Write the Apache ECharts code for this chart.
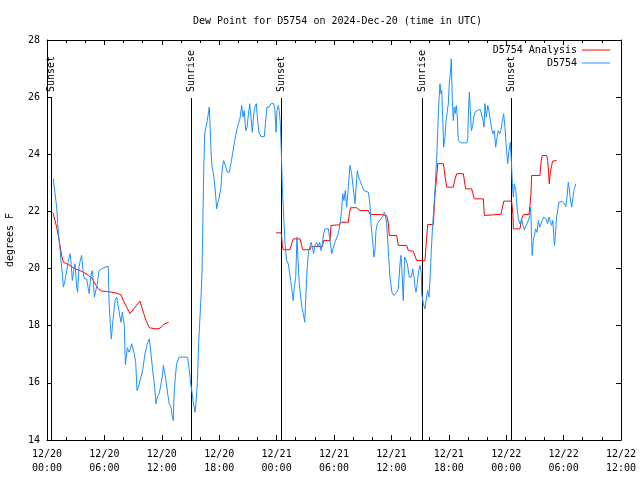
<!DOCTYPE html>
<html>
<head>
<meta charset="utf-8">
<script src="https://cdn.jsdelivr.net/npm/echarts@6/dist/echarts.min.js"></script>
<style>html,body{margin:0;padding:0;background:#fff;}#c{width:640px;height:480px;}</style>
</head>
<body>
<div id="c"></div>
<script>
// Hours since 2024-12-20 00:00 UTC
const obsHours = [0.66,0.84,1.01,1.12,1.25,1.36,1.46,1.60,1.71,1.88,2.06,2.23,2.40,2.50,2.65,2.79,2.93,3.10,3.20,3.34,3.48,3.62,3.80,3.90,4.15,4.32,4.42,4.56,4.73,4.84,4.95,5.12,5.26,5.44,5.72,6.06,6.41,6.48,6.62,6.72,6.83,6.97,7.11,7.28,7.46,7.63,7.74,7.87,7.98,8.08,8.19,8.29,8.40,8.57,8.71,8.85,9.00,9.13,9.27,9.41,9.55,9.72,10.00,10.24,10.49,10.70,10.87,11.05,11.26,11.39,11.53,11.74,11.90,12.05,12.16,12.30,12.44,12.61,12.78,12.96,13.07,13.20,13.27,13.41,13.55,13.80,14.25,14.70,14.88,15.02,15.16,15.29,15.47,15.57,15.71,15.85,15.99,16.10,16.20,16.27,16.38,16.48,16.62,16.76,16.86,16.96,17.04,17.14,17.25,17.38,17.56,17.74,17.87,18.01,18.19,18.33,18.47,18.64,18.85,19.06,19.31,19.48,19.69,19.83,20.00,20.17,20.35,20.49,20.62,20.77,20.91,21.04,21.19,21.32,21.46,21.61,21.74,21.88,22.02,22.16,22.37,22.71,22.86,22.99,23.20,23.41,23.70,23.83,23.94,24.04,24.18,24.28,24.39,24.49,24.60,24.70,24.81,24.91,25.05,25.22,25.33,25.47,25.61,25.74,25.85,26.00,26.13,26.24,26.37,26.52,26.65,26.79,26.94,27.04,27.18,27.31,27.46,27.60,27.74,27.87,28.01,28.19,28.33,28.50,28.64,28.78,28.92,29.06,29.41,29.58,29.76,29.93,30.10,30.28,30.45,30.63,30.80,30.91,31.04,31.18,31.32,31.50,31.67,31.84,32.00,32.20,32.30,32.44,32.58,32.72,32.90,33.14,33.59,33.76,33.87,34.00,34.18,34.28,34.39,34.53,34.67,34.88,35.09,35.26,35.37,35.51,35.68,35.85,36.06,36.27,36.55,36.72,36.90,37.00,37.10,37.24,37.39,37.52,37.66,37.87,38.08,38.23,38.37,38.47,38.57,38.71,38.85,38.99,39.13,39.17,39.34,39.51,39.69,39.79,39.93,40.07,40.17,40.28,40.42,40.56,40.66,40.77,40.87,40.97,41.08,41.18,41.26,41.36,41.46,41.60,41.71,41.84,41.95,42.05,42.16,42.26,42.37,42.47,42.57,42.68,42.78,42.89,42.99,43.35,43.87,43.98,44.04,44.15,44.25,44.36,44.50,44.60,44.74,44.92,45.09,45.30,45.44,45.58,45.68,45.78,45.92,46.07,46.20,46.34,46.48,46.62,46.76,46.90,47.04,47.17,47.32,47.45,47.58,47.73,47.87,48.01,48.16,48.29,48.43,48.54,48.64,48.75,48.85,49.00,49.13,49.27,49.44,49.62,49.76,49.89,50.03,50.17,50.31,50.46,50.56,50.66,50.72,50.83,50.94,51.08,51.22,51.36,51.50,51.64,51.77,51.92,52.06,52.19,52.33,52.47,52.60,52.75,52.88,52.99,53.06,53.17,53.27,53.38,53.52,53.66,53.87,54.08,54.22,54.36,54.49,54.60,54.70,54.85,54.99,55.12,55.27];
const obsDewF = [23.14,22.62,22.15,21.57,21.04,20.69,20.28,19.82,19.35,19.58,19.93,20.28,20.52,20.28,19.58,19.93,20.17,19.35,19.17,20.05,20.28,20.46,19.82,19.64,19.64,19.29,19.12,19.70,19.93,19.58,19.00,19.02,19.47,19.93,19.99,20.05,20.07,18.88,18.07,17.54,17.95,18.42,18.88,19.00,19.02,18.30,18.12,18.47,18.42,18.01,16.64,16.90,17.23,17.07,17.18,17.37,17.32,17.02,16.72,15.73,15.85,15.88,16.43,17.02,17.37,17.54,17.02,16.43,15.85,15.27,15.50,15.64,15.64,16.20,16.61,16.37,16.08,15.62,15.27,15.15,14.86,14.68,15.50,16.20,16.67,16.90,16.90,16.90,16.43,15.97,15.67,15.32,14.97,15.27,15.97,17.37,18.30,19.00,19.82,21.22,23.32,24.72,24.95,25.18,25.42,25.65,25.07,24.13,23.55,23.37,22.85,22.09,22.32,22.50,22.85,23.55,23.78,23.61,23.37,23.37,23.84,24.19,24.60,24.83,25.07,25.24,25.71,25.30,25.53,24.83,24.95,25.36,25.77,25.30,24.77,25.42,25.65,25.77,25.18,24.77,24.62,24.62,25.18,25.65,25.65,25.77,25.77,25.53,24.77,25.53,25.71,25.53,25.07,24.13,22.85,22.15,21.33,20.75,20.28,20.17,19.93,19.58,19.23,18.88,19.35,19.70,21.10,20.28,19.47,19.00,18.65,18.42,18.12,18.88,19.93,20.52,20.75,20.92,20.75,20.52,20.81,20.92,20.75,20.92,20.63,20.87,21.22,21.39,21.39,21.00,20.52,20.75,20.92,20.98,21.22,21.57,22.03,22.62,22.38,22.73,22.15,22.85,23.61,23.32,22.85,22.27,22.79,23.43,23.20,23.08,22.91,22.73,22.67,22.27,21.57,21.10,20.40,20.63,21.33,21.57,21.62,21.74,21.80,21.97,21.86,21.57,20.63,19.70,19.17,19.06,19.17,19.29,20.17,20.46,19.93,18.88,20.40,20.46,20.17,19.70,19.70,19.99,19.70,19.35,19.17,19.47,19.93,20.11,19.82,19.12,18.77,18.59,19.06,19.23,19.00,19.82,20.63,21.33,22.03,22.73,23.43,24.13,25.07,25.88,26.47,26.12,26.23,25.30,24.25,24.60,25.18,25.24,25.77,26.47,26.82,27.34,25.88,25.18,25.65,25.42,25.71,25.30,24.48,24.40,24.40,24.54,25.30,26.17,25.53,24.83,25.00,25.30,25.47,25.53,25.56,25.56,25.59,25.18,24.95,25.77,25.30,25.71,25.53,25.18,24.89,24.72,24.83,24.25,24.60,24.83,24.72,24.83,25.12,25.42,24.95,24.25,23.67,24.13,24.42,23.78,22.97,22.50,22.97,22.73,22.15,21.74,21.57,21.71,21.51,21.36,21.43,21.57,21.68,21.86,22.15,20.98,20.46,20.98,21.16,21.39,21.27,21.68,21.45,21.43,21.68,21.80,21.86,21.74,21.57,21.80,21.86,21.51,21.68,21.04,20.81,21.33,21.80,22.03,22.32,22.38,22.35,22.27,22.17,22.50,23.02,22.79,22.44,22.15,22.50,22.79,22.97];

// Analysis: null marks the gap between the two runs
const anaHours = [0.60,0.84,1.01,1.18,1.36,1.53,1.71,2.06,2.40,2.93,3.45,3.97,4.32,4.67,5.02,5.36,5.72,6.24,6.76,7.28,7.74,7.98,8.33,8.68,9.20,9.72,10.07,10.35,10.70,11.29,11.71,11.99,12.33,12.72,
  18.00,
  23.94,24.49,24.60,24.70,25.40,25.57,25.75,26.45,26.62,26.73,27.50,27.60,28.78,28.92,29.58,29.69,30.56,30.70,31.50,31.60,31.75,32.37,32.72,33.59,33.76,34.98,35.16,35.51,35.68,35.78,36.55,36.72,37.60,37.77,38.29,38.64,39.51,39.62,39.79,40.38,40.56,40.73,40.84,41.43,41.67,41.78,42.47,42.65,42.83,43.52,43.76,44.39,44.67,45.61,45.71,47.45,47.55,47.75,48.57,48.71,48.75,49.44,49.62,49.79,50.38,50.48,50.59,50.66,51.53,51.64,51.77,52.23,52.33,52.43,52.50,52.60,52.75,52.85,53.27];
const anaDewF = [21.97,21.68,21.45,21.16,20.81,20.46,20.22,20.17,20.11,19.99,19.93,19.84,19.76,19.68,19.47,19.29,19.21,19.20,19.17,19.14,19.08,18.88,18.65,18.42,18.65,18.86,18.47,18.18,17.93,17.89,17.90,17.97,18.07,18.12,
  null,
  21.25,21.25,20.81,20.66,20.66,20.87,21.04,21.04,20.81,20.66,20.66,20.77,20.77,20.98,20.98,21.51,21.53,21.62,21.62,21.92,22.13,22.13,22.03,22.03,21.89,21.89,21.85,21.85,21.59,21.16,21.16,20.81,20.81,20.63,20.61,20.28,20.28,20.81,21.54,21.54,22.62,23.20,23.67,23.67,23.08,22.85,22.85,23.14,23.32,23.32,22.79,22.79,22.44,22.44,21.86,21.90,22.05,22.36,22.36,21.86,21.39,21.39,21.74,21.89,21.89,22.20,22.62,23.26,23.26,23.72,23.96,23.96,23.78,23.38,22.97,23.32,23.61,23.76,23.78];

const sunHours = [0.47, 15.10, 24.51, 39.15, 48.48];
const sunLabels = ['Sunset', 'Sunrise', 'Sunset', 'Sunrise', 'Sunset'];

const xTickDates = ['12/20','12/20','12/20','12/20','12/21','12/21','12/21','12/21','12/22','12/22','12/22'];
const xTickTimes = ['00:00','06:00','12:00','18:00','00:00','06:00','12:00','18:00','00:00','06:00','12:00'];

const FONT = 'DejaVu Sans Mono';

const obsData = obsHours.map((h, i) => [h, obsDewF[i]]);
const anaData = anaHours.map((h, i) => [h, anaDewF[i]]);
const sunData = sunHours.map(h => [h, 14]);

const chart = echarts.init(document.getElementById('c'), null, {renderer: 'canvas'});

const xCommon = {
  type: 'value', min: 0, max: 60, interval: 6,
  axisLine: {show: true, onZero: false, lineStyle: {color: '#000', width: 1}},
  axisTick: {show: true, inside: true, length: 5, lineStyle: {color: '#000'}},
  minorTick: {show: true, splitNumber: 3, length: 3, lineStyle: {color: '#000'}},
  splitLine: {show: false}, minorSplitLine: {show: false}
};
const yCommon = {
  type: 'value', min: 14, max: 28, interval: 2,
  axisLine: {show: true, onZero: false, lineStyle: {color: '#000', width: 1}},
  axisTick: {show: true, inside: true, length: 5, lineStyle: {color: '#000'}},
  splitLine: {show: false}
};

chart.setOption({
  animation: false,
  backgroundColor: '#fff',
  title: {
    text: 'Dew Point for D5754 on 2024-Dec-20 (time in UTC)',
    left: 188, top: 11,
    textStyle: {fontFamily: FONT, fontSize: 10, fontWeight: 'normal', color: '#000'}
  },
  legend: [
    {data: ['D5754 Analysis'], right: 30, top: 45, padding: 0, align: 'right', icon: 'rect', itemWidth: 28, itemHeight: 1, itemGap: 0,
     textStyle: {fontFamily: FONT, fontSize: 10, color: '#000'}},
    {data: ['D5754'], right: 30, top: 58, padding: 0, align: 'right', icon: 'rect', itemWidth: 28, itemHeight: 1, itemGap: 0,
     textStyle: {fontFamily: FONT, fontSize: 10, color: '#000'}}
  ],
  grid: {left: 47, right: 19, top: 40, bottom: 40, containLabel: false, outerBoundsMode: 'none'},
  xAxis: [
    Object.assign({}, xCommon, {
      position: 'bottom',
      axisLabel: {
        show: true, margin: 7, fontFamily: FONT, fontSize: 10, color: '#000', lineHeight: 14,
        formatter: function (v) { const i = Math.round(v / 6); return xTickDates[i] + '\n' + xTickTimes[i]; }
      }
    }),
    Object.assign({}, xCommon, {position: 'top', axisLabel: {show: false}})
  ],
  yAxis: [
    Object.assign({}, yCommon, {
      position: 'left',
      name: 'degrees F', nameLocation: 'middle', nameGap: 32, nameRotate: 90,
      nameTextStyle: {fontFamily: FONT, fontSize: 10, color: '#000'},
      axisLabel: {show: true, margin: 7, fontFamily: FONT, fontSize: 10, color: '#000'}
    }),
    Object.assign({}, yCommon, {position: 'right', axisLabel: {show: false}})
  ],
  series: [
    {
      type: 'custom', name: 'sun', xAxisIndex: 0, yAxisIndex: 0, z: 1, silent: true,
      data: sunData,
      renderItem: function (params, api) {
        const cs = params.coordSys;
        const x = Math.round(api.coord([api.value(0), 14])[0]) + 0.5;
        const yBottom = cs.y + cs.height;
        const yTop = Math.round(cs.y + cs.height * 0.146);
        return {
          type: 'group',
          children: [
            {type: 'line', shape: {x1: x, y1: yBottom, x2: x, y2: yTop}, style: {stroke: '#000', lineWidth: 1}},
            {type: 'text', x: x, y: yTop - 6, rotation: Math.PI / 2,
             style: {text: sunLabels[params.dataIndex], font: '10px ' + FONT, fill: '#000', align: 'left', verticalAlign: 'middle'}}
          ]
        };
      }
    },
    {
      type: 'line', name: 'D5754 Analysis', data: anaData, z: 2,
      showSymbol: false, symbol: 'none', connectNulls: false,
      lineStyle: {color: '#ff0000', width: 1}, itemStyle: {color: '#ff0000'}
    },
    {
      type: 'line', name: 'D5754', data: obsData, z: 3,
      showSymbol: false, symbol: 'none',
      lineStyle: {color: '#1e90ff', width: 1}, itemStyle: {color: '#1e90ff'}
    }
  ]
});
</script>
</body>
</html>
